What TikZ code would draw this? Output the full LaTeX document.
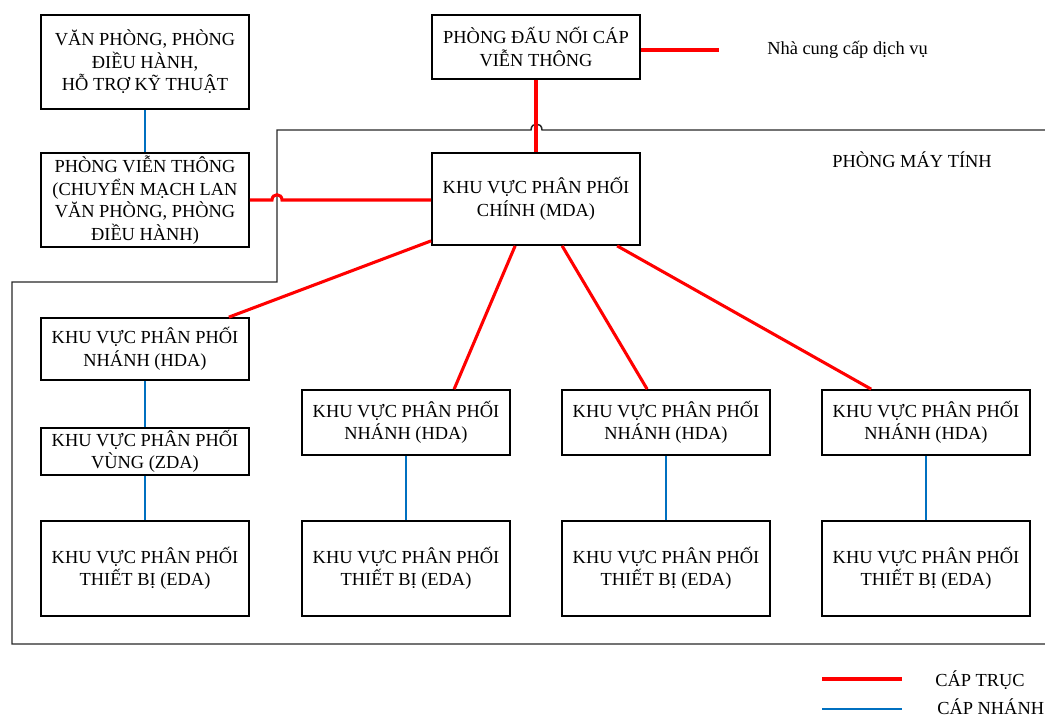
\documentclass[tikz,border=0pt]{standalone}
\usepackage{fontspec}
\setmainfont{Liberation Serif}
\usetikzlibrary{calc}
\definecolor{trunkred}{RGB}{255,0,0}
\definecolor{branchblue}{RGB}{0,112,192}
\definecolor{wallgray}{RGB}{40,40,40}
\begin{document}
\begin{tikzpicture}[x=0.75pt,y=-0.75pt,
  box/.style 2 args={draw=black,line width=1.3pt,fill=white,align=center,inner sep=0pt,
    minimum width=#1*0.75pt,minimum height=#2*0.75pt,font=\fontsize{13.8}{16.9}\selectfont},
  trunk/.style={draw=trunkred,line width=2.3pt},
  branch/.style={draw=branchblue,line width=1.6pt},
  wall/.style={draw=wallgray,line width=1.1pt},
  lbl/.style={inner sep=0pt,font=\fontsize{13.8}{16.9}\selectfont}]
\useasboundingbox (0,0) rectangle (1045,717);

% room boundary
\draw[wall] (1045,130) -- (542,130) .. controls (542,122) and (531,122) .. (531,130)
  -- (277,130) -- (277,282) -- (12,282) -- (12,644) -- (1045,644);

% boxes
\node[box={208}{94}] (A) at (145,62) {VĂN PHÒNG, PHÒNG\\ĐIỀU HÀNH,\\HỖ TRỢ KỸ THUẬT};
\node[box={208}{94}] (B) at (145,200) {PHÒNG VIỄN THÔNG\\(CHUYỂN MẠCH LAN\\VĂN PHÒNG, PHÒNG\\ĐIỀU HÀNH)};
\node[box={208}{64}] (C) at (536,47) {PHÒNG ĐẤU NỐI CÁP\\VIỄN THÔNG};
\node[box={208}{92}] (MDA) at (536,199) {KHU VỰC PHÂN PHỐI\\CHÍNH (MDA)};
\node[box={208}{62}] (HDA1) at (145,349) {KHU VỰC PHÂN PHỐI\\NHÁNH (HDA)};
\node[box={208}{47}] (ZDA) at (145,451.5) {KHU VỰC PHÂN PHỐI\\VÙNG (ZDA)};
\node[box={208}{95}] (EDA1) at (145,568.5) {KHU VỰC PHÂN PHỐI\\THIẾT BỊ (EDA)};
\node[box={208}{65}] (HDA2) at (406,422.5) {KHU VỰC PHÂN PHỐI\\NHÁNH (HDA)};
\node[box={208}{65}] (HDA3) at (666,422.5) {KHU VỰC PHÂN PHỐI\\NHÁNH (HDA)};
\node[box={208}{65}] (HDA4) at (926,422.5) {KHU VỰC PHÂN PHỐI\\NHÁNH (HDA)};
\node[box={208}{95}] (EDA2) at (406,568.5) {KHU VỰC PHÂN PHỐI\\THIẾT BỊ (EDA)};
\node[box={208}{95}] (EDA3) at (666,568.5) {KHU VỰC PHÂN PHỐI\\THIẾT BỊ (EDA)};
\node[box={208}{95}] (EDA4) at (926,568.5) {KHU VỰC PHÂN PHỐI\\THIẾT BỊ (EDA)};

% labels
\node[lbl,anchor=west] (prov) at (767,50) {Nhà cung cấp dịch vụ};
\node[lbl,anchor=west] (room) at (832,160) {PHÒNG MÁY TÍNH};

% branch cables
\draw[branch] (A.south) -- (B.north);
\draw[branch] (HDA1.south) -- (ZDA.north);
\draw[branch] (ZDA.south) -- (EDA1.north);
\draw[branch] (HDA2.south) -- (EDA2.north);
\draw[branch] (HDA3.south) -- (EDA3.north);
\draw[branch] (HDA4.south) -- (EDA4.north);

% trunk cables
\coordinate (provend) at (719,50);
\draw[trunk] (C.east |- provend) -- (provend);
\draw[trunk] (C.south) -- (MDA.north);
\draw[trunk] (B.east) -- (272,200) .. controls (272,193) and (282,193) .. (282,200) -- (MDA.west |- B.east);
\draw[trunk] ($(MDA.south west)+(0,-5)$) -- ($(HDA1.north east)+(-21,0)$);
\draw[trunk] ($(MDA.south west)+(84,0)$) -- ($(HDA2.north west)+(153,0)$);
\draw[trunk] ($(MDA.south west)+(131,0)$) -- ($(HDA3.north west)+(86,0)$);
\draw[trunk] ($(MDA.south west)+(186,0)$) -- ($(HDA4.north west)+(50,0)$);

% legend
\coordinate (lr1) at (822,679);
\coordinate (lr2) at (902,679);
\coordinate (lb1) at (822,709);
\coordinate (lb2) at (902,709);
\draw[trunk] (lr1) -- (lr2);
\draw[branch] (lb1) -- (lb2);
\node[lbl,anchor=west] (ltrunk) at (935,680) {CÁP TRỤC};
\node[lbl,anchor=west] (lbranch) at (937,707) {CÁP NHÁNH};
\end{tikzpicture}
\end{document}
